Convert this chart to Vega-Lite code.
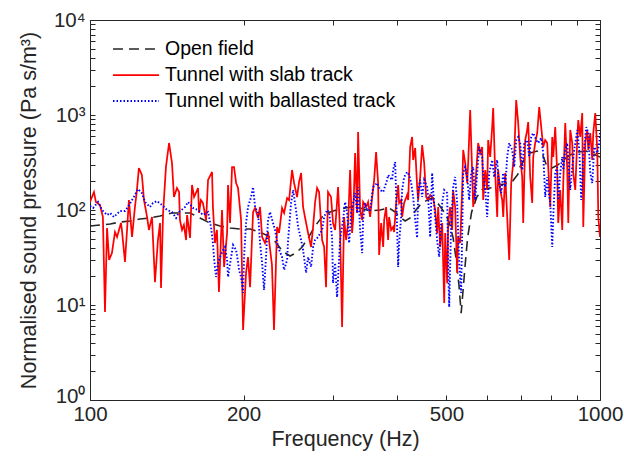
{
  "$schema": "https://vega.github.io/schema/vega-lite/v6.json",
  "width": 510,
  "height": 380,
  "autosize": {"type": "none"},
  "padding": {"left": 90, "top": 20, "right": 24, "bottom": 70},
  "config": {
    "view": {"stroke": null},
    "font": "Liberation Sans",
    "axis": {"grid": false, "domainColor": "#262626", "tickColor": "#262626", "labelColor": "#262626", "titleColor": "#262626", "labelFont": "Liberation Sans", "titleFont": "Liberation Sans", "titleFontWeight": "normal", "labelFontSize": 20.5, "titleFontSize": 21.5, "tickSize": -5, "domainWidth": 1, "tickWidth": 1}
  },
  "data": {"values": [
    {"series":"Open field","f":100,"v":67.9},{"series":"Open field","f":104.6,"v":69.5},{"series":"Open field","f":109.5,"v":71.2},{"series":"Open field","f":114.5,"v":74.7},{"series":"Open field","f":119.8,"v":76.6},{"series":"Open field","f":125.3,"v":80.4},{"series":"Open field","f":131.1,"v":82.4},{"series":"Open field","f":137.2,"v":86.5},{"series":"Open field","f":144.7,"v":93},{"series":"Open field","f":150.1,"v":93},{"series":"Open field","f":157.1,"v":93},{"series":"Open field","f":164.3,"v":82.4},{"series":"Open field","f":171.9,"v":72.9},{"series":"Open field","f":179.9,"v":67.9},{"series":"Open field","f":188.2,"v":64.6},{"series":"Open field","f":196.9,"v":63},{"series":"Open field","f":206,"v":63},{"series":"Open field","f":215.5,"v":58.6},{"series":"Open field","f":223.4,"v":53.3},{"series":"Open field","f":230.6,"v":46.6},{"series":"Open field","f":239,"v":36.5},{"series":"Open field","f":246.8,"v":32.8},{"series":"Open field","f":253.5,"v":35.3},{"series":"Open field","f":260.6,"v":40.8},{"series":"Open field","f":267.7,"v":50.7},{"series":"Open field","f":276.3,"v":67.9},{"series":"Open field","f":285.1,"v":84.4},{"series":"Open field","f":295.6,"v":95.3},{"series":"Open field","f":309.3,"v":102.5},{"series":"Open field","f":323.6,"v":107.5},{"series":"Open field","f":338.6,"v":105},{"series":"Open field","f":354.2,"v":97.6},{"series":"Open field","f":370.6,"v":100},{"series":"Open field","f":385.5,"v":105},{"series":"Open field","f":396.6,"v":95.3},{"series":"Open field","f":405.6,"v":84.4},{"series":"Open field","f":414.9,"v":76.6},{"series":"Open field","f":424.4,"v":82.4},{"series":"Open field","f":434.1,"v":97.6},{"series":"Open field","f":444,"v":113},{"series":"Open field","f":458,"v":127},{"series":"Open field","f":468.6,"v":134},{"series":"Open field","f":481.6,"v":116},{"series":"Open field","f":495,"v":95},{"series":"Open field","f":506,"v":75},{"series":"Open field","f":515.3,"v":50.7},{"series":"Open field","f":521.8,"v":31.4},{"series":"Open field","f":529,"v":16.2},{"series":"Open field","f":534.3,"v":8.2},{"series":"Open field","f":539,"v":14.4},{"series":"Open field","f":544,"v":26.4},{"series":"Open field","f":550,"v":50.7},{"series":"Open field","f":560,"v":95},{"series":"Open field","f":573,"v":135.7},{"series":"Open field","f":587,"v":163},{"series":"Open field","f":609,"v":170},{"series":"Open field","f":627,"v":183},{"series":"Open field","f":652,"v":188},{"series":"Open field","f":674,"v":202},{"series":"Open field","f":690,"v":237},{"series":"Open field","f":697.5,"v":288},{"series":"Open field","f":713,"v":350},{"series":"Open field","f":730,"v":398},{"series":"Open field","f":753,"v":417},{"series":"Open field","f":772,"v":380},{"series":"Open field","f":785,"v":298},{"series":"Open field","f":803,"v":275},{"series":"Open field","f":827,"v":298},{"series":"Open field","f":847,"v":335},{"series":"Open field","f":874,"v":380},{"series":"Open field","f":906,"v":408},{"series":"Open field","f":940,"v":417},{"series":"Open field","f":970,"v":390},{"series":"Open field","f":1000,"v":360},
    {"series":"Tunnel with slab track","f":100,"v":121.4},{"series":"Tunnel with slab track","f":101.8,"v":154.7},{"series":"Tunnel with slab track","f":102.7,"v":121.4},{"series":"Tunnel with slab track","f":104.6,"v":112.9},{"series":"Tunnel with slab track","f":106,"v":84.4},{"series":"Tunnel with slab track","f":107,"v":8.44},{"series":"Tunnel with slab track","f":108,"v":64.6},{"series":"Tunnel with slab track","f":109,"v":29.8},{"series":"Tunnel with slab track","f":110.4,"v":35.2},{"series":"Tunnel with slab track","f":111.95,"v":58.7},{"series":"Tunnel with slab track","f":113,"v":52},{"series":"Tunnel with slab track","f":115,"v":73},{"series":"Tunnel with slab track","f":115.5,"v":61.6},{"series":"Tunnel with slab track","f":117.1,"v":28.4},{"series":"Tunnel with slab track","f":118.2,"v":61.6},{"series":"Tunnel with slab track","f":119.2,"v":127.4},{"series":"Tunnel with slab track","f":120.9,"v":52},{"series":"Tunnel with slab track","f":122.5,"v":107.5},{"series":"Tunnel with slab track","f":123.6,"v":162.4},{"series":"Tunnel with slab track","f":124.7,"v":276.7},{"series":"Tunnel with slab track","f":126.4,"v":233.6},{"series":"Tunnel with slab track","f":127.6,"v":127.4},{"series":"Tunnel with slab track","f":129.4,"v":84.4},{"series":"Tunnel with slab track","f":130.5,"v":61.6},{"series":"Tunnel with slab track","f":132.3,"v":84.4},{"series":"Tunnel with slab track","f":134.1,"v":17.4},{"series":"Tunnel with slab track","f":135.9,"v":48.3},{"series":"Tunnel with slab track","f":137.2,"v":73},{"series":"Tunnel with slab track","f":137.8,"v":15.1},{"series":"Tunnel with slab track","f":139.1,"v":93},{"series":"Tunnel with slab track","f":140.9,"v":283.5},{"series":"Tunnel with slab track","f":142.9,"v":507.3},{"series":"Tunnel with slab track","f":144.8,"v":312.4},{"series":"Tunnel with slab track","f":146.1,"v":137},{"series":"Tunnel with slab track","f":148.1,"v":170.4},{"series":"Tunnel with slab track","f":149.5,"v":154.7},{"series":"Tunnel with slab track","f":150.1,"v":78.5},{"series":"Tunnel with slab track","f":151.5,"v":61.6},{"series":"Tunnel with slab track","f":152.8,"v":69.5},{"series":"Tunnel with slab track","f":154.3,"v":48.3},{"series":"Tunnel with slab track","f":155,"v":88.6},{"series":"Tunnel with slab track","f":157.1,"v":50.8},{"series":"Tunnel with slab track","f":158.5,"v":183.3},{"series":"Tunnel with slab track","f":160,"v":137},{"series":"Tunnel with slab track","f":162.9,"v":170.4},{"series":"Tunnel with slab track","f":163.6,"v":93},{"series":"Tunnel with slab track","f":165,"v":127.4},{"series":"Tunnel with slab track","f":166.5,"v":118.5},{"series":"Tunnel with slab track","f":168.9,"v":78.5},{"series":"Tunnel with slab track","f":170.4,"v":206.9},{"series":"Tunnel with slab track","f":173.5,"v":251.2},{"series":"Tunnel with slab track","f":174.2,"v":107.5},{"series":"Tunnel with slab track","f":175.8,"v":44.9},{"series":"Tunnel with slab track","f":177.4,"v":61.6},{"series":"Tunnel with slab track","f":179,"v":13.7},{"series":"Tunnel with slab track","f":181.5,"v":100},{"series":"Tunnel with slab track","f":183.2,"v":25.1},{"series":"Tunnel with slab track","f":185.7,"v":57.3},{"series":"Tunnel with slab track","f":186.5,"v":183.3},{"series":"Tunnel with slab track","f":188.2,"v":73},{"series":"Tunnel with slab track","f":189.9,"v":283.5},{"series":"Tunnel with slab track","f":191.6,"v":283.5},{"series":"Tunnel with slab track","f":193.4,"v":192.4},{"series":"Tunnel with slab track","f":195.1,"v":170.4},{"series":"Tunnel with slab track","f":197.8,"v":78.5},{"series":"Tunnel with slab track","f":199.6,"v":5.46},{"series":"Tunnel with slab track","f":202.3,"v":21.8},{"series":"Tunnel with slab track","f":204.1,"v":32},{"series":"Tunnel with slab track","f":206,"v":15.4},{"series":"Tunnel with slab track","f":208.8,"v":95.3},{"series":"Tunnel with slab track","f":210.7,"v":105},{"series":"Tunnel with slab track","f":213.6,"v":82.4},{"series":"Tunnel with slab track","f":215.5,"v":107.5},{"series":"Tunnel with slab track","f":217.5,"v":52},{"series":"Tunnel with slab track","f":220.4,"v":44.9},{"series":"Tunnel with slab track","f":223.4,"v":58.7},{"series":"Tunnel with slab track","f":227.4,"v":26.4},{"series":"Tunnel with slab track","f":229.5,"v":5.46},{"series":"Tunnel with slab track","f":232.7,"v":66.2},{"series":"Tunnel with slab track","f":234.8,"v":57.3},{"series":"Tunnel with slab track","f":238,"v":105},{"series":"Tunnel with slab track","f":240.2,"v":93},{"series":"Tunnel with slab track","f":243.5,"v":133.7},{"series":"Tunnel with slab track","f":245.7,"v":127.4},{"series":"Tunnel with slab track","f":249,"v":263.7},{"series":"Tunnel with slab track","f":251.3,"v":192.4},{"series":"Tunnel with slab track","f":254.7,"v":137},{"series":"Tunnel with slab track","f":257,"v":197.1},{"series":"Tunnel with slab track","f":259.4,"v":245.2},{"series":"Tunnel with slab track","f":261.7,"v":107.5},{"series":"Tunnel with slab track","f":265.3,"v":73},{"series":"Tunnel with slab track","f":267.7,"v":57.3},{"series":"Tunnel with slab track","f":271.3,"v":40.8},{"series":"Tunnel with slab track","f":273.8,"v":66.2},{"series":"Tunnel with slab track","f":276.3,"v":121.4},{"series":"Tunnel with slab track","f":278.8,"v":170.4},{"series":"Tunnel with slab track","f":281.3,"v":154.7},{"series":"Tunnel with slab track","f":285.2,"v":48.3},{"series":"Tunnel with slab track","f":287.8,"v":40.8},{"series":"Tunnel with slab track","f":290.3,"v":15.4},{"series":"Tunnel with slab track","f":292.9,"v":154.7},{"series":"Tunnel with slab track","f":296.9,"v":137},{"series":"Tunnel with slab track","f":299.6,"v":73},{"series":"Tunnel with slab track","f":302.4,"v":61.6},{"series":"Tunnel with slab track","f":306.5,"v":174.6},{"series":"Tunnel with slab track","f":309.3,"v":57.3},{"series":"Tunnel with slab track","f":312.1,"v":5.87},{"series":"Tunnel with slab track","f":314.9,"v":84.4},{"series":"Tunnel with slab track","f":317.8,"v":48.3},{"series":"Tunnel with slab track","f":320.7,"v":73},{"series":"Tunnel with slab track","f":323.6,"v":263.7},{"series":"Tunnel with slab track","f":326.5,"v":57.3},{"series":"Tunnel with slab track","f":328,"v":78.5},{"series":"Tunnel with slab track","f":331,"v":398},{"series":"Tunnel with slab track","f":334,"v":93},{"series":"Tunnel with slab track","f":335.5,"v":662.3},{"series":"Tunnel with slab track","f":338.6,"v":100},{"series":"Tunnel with slab track","f":341.7,"v":78.5},{"series":"Tunnel with slab track","f":343.2,"v":121.4},{"series":"Tunnel with slab track","f":347.9,"v":107.5},{"series":"Tunnel with slab track","f":351,"v":121.4},{"series":"Tunnel with slab track","f":354.2,"v":84.4},{"series":"Tunnel with slab track","f":357.4,"v":133.7},{"series":"Tunnel with slab track","f":360.7,"v":206.9},{"series":"Tunnel with slab track","f":363.9,"v":407.8},{"series":"Tunnel with slab track","f":367.2,"v":192.4},{"series":"Tunnel with slab track","f":368.9,"v":33.6},{"series":"Tunnel with slab track","f":372.3,"v":73},{"series":"Tunnel with slab track","f":375.7,"v":40.8},{"series":"Tunnel with slab track","f":377.4,"v":78.5},{"series":"Tunnel with slab track","f":380.7,"v":107.5},{"series":"Tunnel with slab track","f":384.2,"v":48.3},{"series":"Tunnel with slab track","f":385.9,"v":84.4},{"series":"Tunnel with slab track","f":389.5,"v":61.6},{"series":"Tunnel with slab track","f":393,"v":66.2},{"series":"Tunnel with slab track","f":394.8,"v":58.7},{"series":"Tunnel with slab track","f":398.4,"v":118.5},{"series":"Tunnel with slab track","f":402,"v":183.3},{"series":"Tunnel with slab track","f":403.8,"v":118.5},{"series":"Tunnel with slab track","f":407.4,"v":127.4},{"series":"Tunnel with slab track","f":409.3,"v":84.4},{"series":"Tunnel with slab track","f":413,"v":118.5},{"series":"Tunnel with slab track","f":418.7,"v":143.8},{"series":"Tunnel with slab track","f":420.6,"v":127.4},{"series":"Tunnel with slab track","f":424.4,"v":460.4},{"series":"Tunnel with slab track","f":428.2,"v":586.6},{"series":"Tunnel with slab track","f":430.2,"v":336},{"series":"Tunnel with slab track","f":434.1,"v":449.4},{"series":"Tunnel with slab track","f":438,"v":174.6},{"series":"Tunnel with slab track","f":440,"v":127.4},{"series":"Tunnel with slab track","f":444,"v":222.5},{"series":"Tunnel with slab track","f":448,"v":483.3},{"series":"Tunnel with slab track","f":452.1,"v":312.4},{"series":"Tunnel with slab track","f":456.2,"v":137},{"series":"Tunnel with slab track","f":460.3,"v":127.4},{"series":"Tunnel with slab track","f":464.5,"v":143.8},{"series":"Tunnel with slab track","f":470.8,"v":133.7},{"series":"Tunnel with slab track","f":475.1,"v":100},{"series":"Tunnel with slab track","f":479.4,"v":57.3},{"series":"Tunnel with slab track","f":481.6,"v":107.5},{"series":"Tunnel with slab track","f":486,"v":40.8},{"series":"Tunnel with slab track","f":490.4,"v":73},{"series":"Tunnel with slab track","f":492.6,"v":27.7},{"series":"Tunnel with slab track","f":494.9,"v":10.5},{"series":"Tunnel with slab track","f":497.1,"v":57.3},{"series":"Tunnel with slab track","f":501.6,"v":17},{"series":"Tunnel with slab track","f":503.9,"v":73},{"series":"Tunnel with slab track","f":508.4,"v":107.5},{"series":"Tunnel with slab track","f":513,"v":61.6},{"series":"Tunnel with slab track","f":515.3,"v":162.4},{"series":"Tunnel with slab track","f":520,"v":107.5},{"series":"Tunnel with slab track","f":524.7,"v":21.8},{"series":"Tunnel with slab track","f":527.1,"v":52},{"series":"Tunnel with slab track","f":531.9,"v":44.9},{"series":"Tunnel with slab track","f":536.7,"v":162.4},{"series":"Tunnel with slab track","f":539.2,"v":428.1},{"series":"Tunnel with slab track","f":544.1,"v":312.4},{"series":"Tunnel with slab track","f":549,"v":192.4},{"series":"Tunnel with slab track","f":551.5,"v":312.4},{"series":"Tunnel with slab track","f":556.5,"v":1129},{"series":"Tunnel with slab track","f":561.5,"v":245.2},{"series":"Tunnel with slab track","f":564.1,"v":107.5},{"series":"Tunnel with slab track","f":569.2,"v":174.6},{"series":"Tunnel with slab track","f":574.4,"v":361.3},{"series":"Tunnel with slab track","f":577,"v":507.3},{"series":"Tunnel with slab track","f":582.2,"v":398},{"series":"Tunnel with slab track","f":587.5,"v":460.4},{"series":"Tunnel with slab track","f":590.1,"v":127.4},{"series":"Tunnel with slab track","f":595.5,"v":263.7},{"series":"Tunnel with slab track","f":600.9,"v":162.4},{"series":"Tunnel with slab track","f":603.6,"v":545.6},{"series":"Tunnel with slab track","f":609.1,"v":361.3},{"series":"Tunnel with slab track","f":614.6,"v":747.6},{"series":"Tunnel with slab track","f":617.4,"v":1185},{"series":"Tunnel with slab track","f":623,"v":245.2},{"series":"Tunnel with slab track","f":628.7,"v":84.4},{"series":"Tunnel with slab track","f":631.5,"v":263.7},{"series":"Tunnel with slab track","f":637.3,"v":162.4},{"series":"Tunnel with slab track","f":643.1,"v":127.4},{"series":"Tunnel with slab track","f":646,"v":84.4},{"series":"Tunnel with slab track","f":651.8,"v":245.2},{"series":"Tunnel with slab track","f":657.7,"v":84.4},{"series":"Tunnel with slab track","f":663.7,"v":29.8},{"series":"Tunnel with slab track","f":669.7,"v":192.4},{"series":"Tunnel with slab track","f":675.8,"v":312.4},{"series":"Tunnel with slab track","f":678.9,"v":379.3},{"series":"Tunnel with slab track","f":685,"v":1438},{"series":"Tunnel with slab track","f":691.2,"v":823.7},{"series":"Tunnel with slab track","f":697.5,"v":361.3},{"series":"Tunnel with slab track","f":703.8,"v":222.5},{"series":"Tunnel with slab track","f":707,"v":73},{"series":"Tunnel with slab track","f":713.4,"v":545.6},{"series":"Tunnel with slab track","f":719.9,"v":695.2},{"series":"Tunnel with slab track","f":723.1,"v":843.9},{"series":"Tunnel with slab track","f":729.7,"v":222.5},{"series":"Tunnel with slab track","f":736.3,"v":118.5},{"series":"Tunnel with slab track","f":739.7,"v":361.3},{"series":"Tunnel with slab track","f":746.4,"v":507.3},{"series":"Tunnel with slab track","f":753.2,"v":646.4},{"series":"Tunnel with slab track","f":760,"v":1214},{"series":"Tunnel with slab track","f":766.9,"v":747.6},{"series":"Tunnel with slab track","f":773.9,"v":460.4},{"series":"Tunnel with slab track","f":780.9,"v":545.6},{"series":"Tunnel with slab track","f":788,"v":507.3},{"series":"Tunnel with slab track","f":791.6,"v":283.5},{"series":"Tunnel with slab track","f":798.8,"v":107.5},{"series":"Tunnel with slab track","f":806,"v":586.6},{"series":"Tunnel with slab track","f":809.7,"v":361.3},{"series":"Tunnel with slab track","f":817,"v":747.6},{"series":"Tunnel with slab track","f":824.4,"v":245.2},{"series":"Tunnel with slab track","f":828.1,"v":73},{"series":"Tunnel with slab track","f":835.7,"v":162.4},{"series":"Tunnel with slab track","f":843.3,"v":61.6},{"series":"Tunnel with slab track","f":847.1,"v":192.4},{"series":"Tunnel with slab track","f":854.8,"v":823.7},{"series":"Tunnel with slab track","f":862.6,"v":263.7},{"series":"Tunnel with slab track","f":866.5,"v":73},{"series":"Tunnel with slab track","f":874.3,"v":695.2},{"series":"Tunnel with slab track","f":882.2,"v":507.3},{"series":"Tunnel with slab track","f":886.2,"v":245.2},{"series":"Tunnel with slab track","f":894.3,"v":162.4},{"series":"Tunnel with slab track","f":902.4,"v":545.6},{"series":"Tunnel with slab track","f":906.5,"v":885.9},{"series":"Tunnel with slab track","f":914.7,"v":586.6},{"series":"Tunnel with slab track","f":923,"v":1050},{"series":"Tunnel with slab track","f":927.2,"v":66.2},{"series":"Tunnel with slab track","f":935.6,"v":507.3},{"series":"Tunnel with slab track","f":944.1,"v":695.2},{"series":"Tunnel with slab track","f":948.4,"v":428.1},{"series":"Tunnel with slab track","f":957,"v":646.4},{"series":"Tunnel with slab track","f":965.7,"v":336},{"series":"Tunnel with slab track","f":970.1,"v":646.4},{"series":"Tunnel with slab track","f":978.9,"v":1050},{"series":"Tunnel with slab track","f":987.8,"v":428.1},{"series":"Tunnel with slab track","f":992.3,"v":84.4},{"series":"Tunnel with slab track","f":1000,"v":52},
    {"series":"Tunnel with ballasted track","f":100,"v":110.2},{"series":"Tunnel with ballasted track","f":101.4,"v":105},{"series":"Tunnel with ballasted track","f":103.7,"v":121.4},{"series":"Tunnel with ballasted track","f":105.6,"v":100},{"series":"Tunnel with ballasted track","f":108,"v":88.6},{"series":"Tunnel with ballasted track","f":109.5,"v":93},{"series":"Tunnel with ballasted track","f":111.4,"v":84.4},{"series":"Tunnel with ballasted track","f":114.5,"v":97.6},{"series":"Tunnel with ballasted track","f":117.1,"v":97.6},{"series":"Tunnel with ballasted track","f":118.7,"v":107.5},{"series":"Tunnel with ballasted track","f":120.9,"v":127.4},{"series":"Tunnel with ballasted track","f":122.5,"v":143.8},{"series":"Tunnel with ballasted track","f":124.2,"v":166.3},{"series":"Tunnel with ballasted track","f":126.4,"v":151},{"series":"Tunnel with ballasted track","f":128.2,"v":121.4},{"series":"Tunnel with ballasted track","f":131.1,"v":107.5},{"series":"Tunnel with ballasted track","f":132.9,"v":118.5},{"series":"Tunnel with ballasted track","f":135.3,"v":124.3},{"series":"Tunnel with ballasted track","f":138.4,"v":112.9},{"series":"Tunnel with ballasted track","f":141.6,"v":100},{"series":"Tunnel with ballasted track","f":144.8,"v":95.3},{"series":"Tunnel with ballasted track","f":147.5,"v":82.4},{"series":"Tunnel with ballasted track","f":149.5,"v":95.3},{"series":"Tunnel with ballasted track","f":153.6,"v":107.5},{"series":"Tunnel with ballasted track","f":155.7,"v":121.4},{"series":"Tunnel with ballasted track","f":159.2,"v":105},{"series":"Tunnel with ballasted track","f":162.9,"v":100},{"series":"Tunnel with ballasted track","f":166.5,"v":88.6},{"series":"Tunnel with ballasted track","f":170.4,"v":95.3},{"series":"Tunnel with ballasted track","f":172.7,"v":66.2},{"series":"Tunnel with ballasted track","f":174.2,"v":44.9},{"series":"Tunnel with ballasted track","f":175,"v":32},{"series":"Tunnel with ballasted track","f":176.6,"v":19.7},{"series":"Tunnel with ballasted track","f":178.2,"v":27.7},{"series":"Tunnel with ballasted track","f":179.9,"v":32},{"series":"Tunnel with ballasted track","f":182.4,"v":37.9},{"series":"Tunnel with ballasted track","f":184,"v":40.8},{"series":"Tunnel with ballasted track","f":185.7,"v":29.8},{"series":"Tunnel with ballasted track","f":186.5,"v":19.7},{"series":"Tunnel with ballasted track","f":189.1,"v":32},{"series":"Tunnel with ballasted track","f":190.8,"v":42.8},{"series":"Tunnel with ballasted track","f":193.4,"v":37.9},{"series":"Tunnel with ballasted track","f":195.1,"v":28.4},{"series":"Tunnel with ballasted track","f":196,"v":23.4},{"series":"Tunnel with ballasted track","f":197.8,"v":19.7},{"series":"Tunnel with ballasted track","f":199.6,"v":13.4},{"series":"Tunnel with ballasted track","f":200.5,"v":32},{"series":"Tunnel with ballasted track","f":202.3,"v":73},{"series":"Tunnel with ballasted track","f":204.1,"v":107.5},{"series":"Tunnel with ballasted track","f":206.9,"v":137},{"series":"Tunnel with ballasted track","f":208.8,"v":174.6},{"series":"Tunnel with ballasted track","f":210.7,"v":107.5},{"series":"Tunnel with ballasted track","f":213.6,"v":93},{"series":"Tunnel with ballasted track","f":215.5,"v":44.9},{"series":"Tunnel with ballasted track","f":217.5,"v":27.7},{"series":"Tunnel with ballasted track","f":219.4,"v":14.4},{"series":"Tunnel with ballasted track","f":221.4,"v":32},{"series":"Tunnel with ballasted track","f":223.4,"v":78.5},{"series":"Tunnel with ballasted track","f":225.4,"v":95.3},{"series":"Tunnel with ballasted track","f":228.5,"v":73},{"series":"Tunnel with ballasted track","f":230.6,"v":61.6},{"series":"Tunnel with ballasted track","f":233.7,"v":40.8},{"series":"Tunnel with ballasted track","f":238,"v":32},{"series":"Tunnel with ballasted track","f":240.2,"v":23.4},{"series":"Tunnel with ballasted track","f":243.5,"v":29.8},{"series":"Tunnel with ballasted track","f":244.6,"v":48.3},{"series":"Tunnel with ballasted track","f":247.9,"v":118.5},{"series":"Tunnel with ballasted track","f":250.2,"v":162.4},{"series":"Tunnel with ballasted track","f":253.5,"v":100},{"series":"Tunnel with ballasted track","f":255.9,"v":66.2},{"series":"Tunnel with ballasted track","f":259.4,"v":48.3},{"series":"Tunnel with ballasted track","f":261.7,"v":37.9},{"series":"Tunnel with ballasted track","f":265.3,"v":21.8},{"series":"Tunnel with ballasted track","f":267.7,"v":32},{"series":"Tunnel with ballasted track","f":271.3,"v":25.1},{"series":"Tunnel with ballasted track","f":273.8,"v":40.8},{"series":"Tunnel with ballasted track","f":276.3,"v":48.3},{"series":"Tunnel with ballasted track","f":280.1,"v":52},{"series":"Tunnel with ballasted track","f":285.2,"v":61.6},{"series":"Tunnel with ballasted track","f":287.8,"v":84.4},{"series":"Tunnel with ballasted track","f":291.6,"v":100},{"series":"Tunnel with ballasted track","f":294.3,"v":95.3},{"series":"Tunnel with ballasted track","f":298.3,"v":52},{"series":"Tunnel with ballasted track","f":299.6,"v":17},{"series":"Tunnel with ballasted track","f":302.4,"v":27.7},{"series":"Tunnel with ballasted track","f":305.1,"v":12.1},{"series":"Tunnel with ballasted track","f":309.3,"v":48.3},{"series":"Tunnel with ballasted track","f":313.5,"v":78.5},{"series":"Tunnel with ballasted track","f":316.4,"v":121.4},{"series":"Tunnel with ballasted track","f":319.3,"v":93},{"series":"Tunnel with ballasted track","f":322.2,"v":44.9},{"series":"Tunnel with ballasted track","f":325.1,"v":93},{"series":"Tunnel with ballasted track","f":328,"v":118.5},{"series":"Tunnel with ballasted track","f":331,"v":151},{"series":"Tunnel with ballasted track","f":334,"v":93},{"series":"Tunnel with ballasted track","f":335.5,"v":174.6},{"series":"Tunnel with ballasted track","f":338.6,"v":61.6},{"series":"Tunnel with ballasted track","f":341.7,"v":35.2},{"series":"Tunnel with ballasted track","f":343.2,"v":78.5},{"series":"Tunnel with ballasted track","f":346.3,"v":118.5},{"series":"Tunnel with ballasted track","f":349.4,"v":100},{"series":"Tunnel with ballasted track","f":354.2,"v":100},{"series":"Tunnel with ballasted track","f":359,"v":174.6},{"series":"Tunnel with ballasted track","f":365.6,"v":192.4},{"series":"Tunnel with ballasted track","f":370.6,"v":162.4},{"series":"Tunnel with ballasted track","f":375.7,"v":154.7},{"series":"Tunnel with ballasted track","f":382.4,"v":206.9},{"series":"Tunnel with ballasted track","f":384.2,"v":233.6},{"series":"Tunnel with ballasted track","f":391.2,"v":206.9},{"series":"Tunnel with ballasted track","f":393,"v":263.7},{"series":"Tunnel with ballasted track","f":396.6,"v":320.1},{"series":"Tunnel with ballasted track","f":400.2,"v":61.6},{"series":"Tunnel with ballasted track","f":402,"v":25.1},{"series":"Tunnel with ballasted track","f":403.8,"v":44.9},{"series":"Tunnel with ballasted track","f":407.4,"v":84.4},{"series":"Tunnel with ballasted track","f":409.3,"v":162.4},{"series":"Tunnel with ballasted track","f":413,"v":222.5},{"series":"Tunnel with ballasted track","f":418.7,"v":251.2},{"series":"Tunnel with ballasted track","f":422.5,"v":233.6},{"series":"Tunnel with ballasted track","f":426.3,"v":192.4},{"series":"Tunnel with ballasted track","f":430.2,"v":137},{"series":"Tunnel with ballasted track","f":434.1,"v":78.5},{"series":"Tunnel with ballasted track","f":438,"v":50.8},{"series":"Tunnel with ballasted track","f":440,"v":162.4},{"series":"Tunnel with ballasted track","f":444,"v":206.9},{"series":"Tunnel with ballasted track","f":448,"v":137},{"series":"Tunnel with ballasted track","f":452.1,"v":206.9},{"series":"Tunnel with ballasted track","f":458.2,"v":174.6},{"series":"Tunnel with ballasted track","f":460.3,"v":137},{"series":"Tunnel with ballasted track","f":464.5,"v":52},{"series":"Tunnel with ballasted track","f":468.7,"v":245.2},{"series":"Tunnel with ballasted track","f":470.8,"v":162.4},{"series":"Tunnel with ballasted track","f":475.1,"v":84.4},{"series":"Tunnel with ballasted track","f":479.4,"v":48.3},{"series":"Tunnel with ballasted track","f":483.8,"v":32},{"series":"Tunnel with ballasted track","f":490.4,"v":118.5},{"series":"Tunnel with ballasted track","f":494.9,"v":162.4},{"series":"Tunnel with ballasted track","f":501.6,"v":151},{"series":"Tunnel with ballasted track","f":503.9,"v":25.1},{"series":"Tunnel with ballasted track","f":506.2,"v":9.53},{"series":"Tunnel with ballasted track","f":510.7,"v":73},{"series":"Tunnel with ballasted track","f":515.3,"v":174.6},{"series":"Tunnel with ballasted track","f":520,"v":222.5},{"series":"Tunnel with ballasted track","f":524.7,"v":118.5},{"series":"Tunnel with ballasted track","f":529.5,"v":27.7},{"series":"Tunnel with ballasted track","f":534.3,"v":13.4},{"series":"Tunnel with ballasted track","f":539.2,"v":245.2},{"series":"Tunnel with ballasted track","f":544.1,"v":283.5},{"series":"Tunnel with ballasted track","f":549,"v":222.5},{"series":"Tunnel with ballasted track","f":554,"v":127.4},{"series":"Tunnel with ballasted track","f":559,"v":245.2},{"series":"Tunnel with ballasted track","f":564.1,"v":283.5},{"series":"Tunnel with ballasted track","f":569.2,"v":127.4},{"series":"Tunnel with ballasted track","f":574.4,"v":245.2},{"series":"Tunnel with ballasted track","f":579.6,"v":460.4},{"series":"Tunnel with ballasted track","f":587.5,"v":361.3},{"series":"Tunnel with ballasted track","f":590.1,"v":245.2},{"series":"Tunnel with ballasted track","f":595.5,"v":162.4},{"series":"Tunnel with ballasted track","f":600.9,"v":84.4},{"series":"Tunnel with ballasted track","f":606.4,"v":245.2},{"series":"Tunnel with ballasted track","f":614.6,"v":336},{"series":"Tunnel with ballasted track","f":620.2,"v":222.5},{"series":"Tunnel with ballasted track","f":628.7,"v":336},{"series":"Tunnel with ballasted track","f":631.5,"v":222.5},{"series":"Tunnel with ballasted track","f":640.2,"v":151},{"series":"Tunnel with ballasted track","f":646,"v":245.2},{"series":"Tunnel with ballasted track","f":651.8,"v":174.6},{"series":"Tunnel with ballasted track","f":657.7,"v":361.3},{"series":"Tunnel with ballasted track","f":663.7,"v":507.3},{"series":"Tunnel with ballasted track","f":672.7,"v":428.1},{"series":"Tunnel with ballasted track","f":678.9,"v":283.5},{"series":"Tunnel with ballasted track","f":685,"v":545.6},{"series":"Tunnel with ballasted track","f":691.2,"v":586.6},{"series":"Tunnel with ballasted track","f":697.5,"v":507.3},{"series":"Tunnel with ballasted track","f":703.8,"v":263.7},{"series":"Tunnel with ballasted track","f":710.2,"v":507.3},{"series":"Tunnel with ballasted track","f":719.9,"v":545.6},{"series":"Tunnel with ballasted track","f":726.4,"v":361.3},{"series":"Tunnel with ballasted track","f":733,"v":586.6},{"series":"Tunnel with ballasted track","f":739.7,"v":646.4},{"series":"Tunnel with ballasted track","f":749.8,"v":545.6},{"series":"Tunnel with ballasted track","f":756.6,"v":507.3},{"series":"Tunnel with ballasted track","f":766.9,"v":572.6},{"series":"Tunnel with ballasted track","f":773.9,"v":398},{"series":"Tunnel with ballasted track","f":780.9,"v":137},{"series":"Tunnel with ballasted track","f":788,"v":222.5},{"series":"Tunnel with ballasted track","f":791.6,"v":162.4},{"series":"Tunnel with ballasted track","f":798.8,"v":118.5},{"series":"Tunnel with ballasted track","f":806,"v":40.8},{"series":"Tunnel with ballasted track","f":809.7,"v":84.4},{"series":"Tunnel with ballasted track","f":817,"v":245.2},{"series":"Tunnel with ballasted track","f":824.4,"v":283.5},{"series":"Tunnel with ballasted track","f":828.1,"v":127.4},{"series":"Tunnel with ballasted track","f":835.7,"v":245.2},{"series":"Tunnel with ballasted track","f":843.3,"v":361.3},{"series":"Tunnel with ballasted track","f":847.1,"v":263.7},{"series":"Tunnel with ballasted track","f":854.8,"v":428.1},{"series":"Tunnel with ballasted track","f":862.6,"v":507.3},{"series":"Tunnel with ballasted track","f":866.5,"v":336},{"series":"Tunnel with ballasted track","f":874.3,"v":162.4},{"series":"Tunnel with ballasted track","f":882.2,"v":283.5},{"series":"Tunnel with ballasted track","f":890.3,"v":428.1},{"series":"Tunnel with ballasted track","f":902.4,"v":695.2},{"series":"Tunnel with ballasted track","f":910.6,"v":428.1},{"series":"Tunnel with ballasted track","f":918.8,"v":127.4},{"series":"Tunnel with ballasted track","f":927.2,"v":361.3},{"series":"Tunnel with ballasted track","f":939.8,"v":747.6},{"series":"Tunnel with ballasted track","f":948.4,"v":646.4},{"series":"Tunnel with ballasted track","f":957,"v":245.2},{"series":"Tunnel with ballasted track","f":965.7,"v":192.4},{"series":"Tunnel with ballasted track","f":974.4,"v":460.4},{"series":"Tunnel with ballasted track","f":987.8,"v":398},{"series":"Tunnel with ballasted track","f":996.7,"v":507.3},{"series":"Tunnel with ballasted track","f":1000,"v":646.4}
  ]},
  "resolve": {"axis": {"x": "independent", "y": "independent"}},
  "layer": [
    {
      "mark": {"type": "line", "clip": true},
      "encoding": {
        "x": {"field": "f", "type": "quantitative", "scale": {"type": "log", "domain": [100, 1000], "nice": false},
          "axis": {"orient": "bottom", "values": [100,200,300,400,500,600,700,800,900,1000], "labelExpr": "indexof([100,200,500,1000], datum.value) >= 0 ? datum.value : ''", "labelPadding": 9, "labelFlush": false, "labelOverlap": false, "title": "Frequency (Hz)", "titlePadding": 4}},
        "y": {"field": "v", "type": "quantitative", "scale": {"type": "log", "domain": [1, 10000], "nice": false},
          "axis": {"orient": "left", "values": [1,2,3,4,5,6,7,8,9,10,20,30,40,50,60,70,80,90,100,200,300,400,500,600,700,800,900,1000,2000,3000,4000,5000,6000,7000,8000,9000,10000], "labelExpr": "datum.value==1?'10⁰':datum.value==10?'10¹':datum.value==100?'10²':datum.value==1000?'10³':datum.value==10000?'10⁴':''", "labelPadding": 10, "labelOffset": {"condition": {"test": "datum.value == 1", "value": -4}, "value": 0}, "labelFlush": false, "labelOverlap": false, "title": "Normalised sound pressure (Pa s/m³)", "titleX": -50}},
        "color": {"field": "series", "type": "nominal", "sort": ["Open field", "Tunnel with slab track", "Tunnel with ballasted track"],
          "scale": {"domain": ["Open field", "Tunnel with slab track", "Tunnel with ballasted track"], "range": ["#262626", "#ff0000", "#0000ff"]},
          "legend": {"orient": "none", "legendX": 33.5, "legendY": 16.5, "title": null, "symbolType": "M-2,0H2", "symbolSize": 529, "symbolStrokeWidth": 1.5, "symbolFillColor": "transparent", "labelFontSize": 19.5, "labelFont": "Liberation Sans", "labelColor": "#000000", "labelOffset": 16.5, "labelLimit": 0, "rowPadding": 4, "padding": 0}},
        "strokeDash": {"field": "series", "type": "nominal", "sort": ["Open field", "Tunnel with slab track", "Tunnel with ballasted track"],
          "scale": {"domain": ["Open field", "Tunnel with slab track", "Tunnel with ballasted track"], "range": [[10, 6], [1, 0], [1.5, 2]]}},
        "strokeWidth": {"field": "series", "type": "nominal", "legend": null,
          "scale": {"domain": ["Open field", "Tunnel with slab track", "Tunnel with ballasted track"], "range": [1.6, 1.9, 1.6]}},
        "order": {"field": "f", "type": "quantitative"}
      }
    },
    {
      "mark": {"type": "point", "opacity": 0},
      "encoding": {
        "x": {"field": "f", "type": "quantitative", "scale": {"type": "log", "domain": [100, 1000], "nice": false},
          "axis": {"orient": "top", "values": [100,200,300,400,500,600,700,800,900,1000], "labels": false, "title": null}},
        "y": {"field": "v", "type": "quantitative", "scale": {"type": "log", "domain": [1, 10000], "nice": false},
          "axis": {"orient": "right", "values": [1,2,3,4,5,6,7,8,9,10,20,30,40,50,60,70,80,90,100,200,300,400,500,600,700,800,900,1000,2000,3000,4000,5000,6000,7000,8000,9000,10000], "labels": false, "title": null}}
      }
    }
  ]
}
